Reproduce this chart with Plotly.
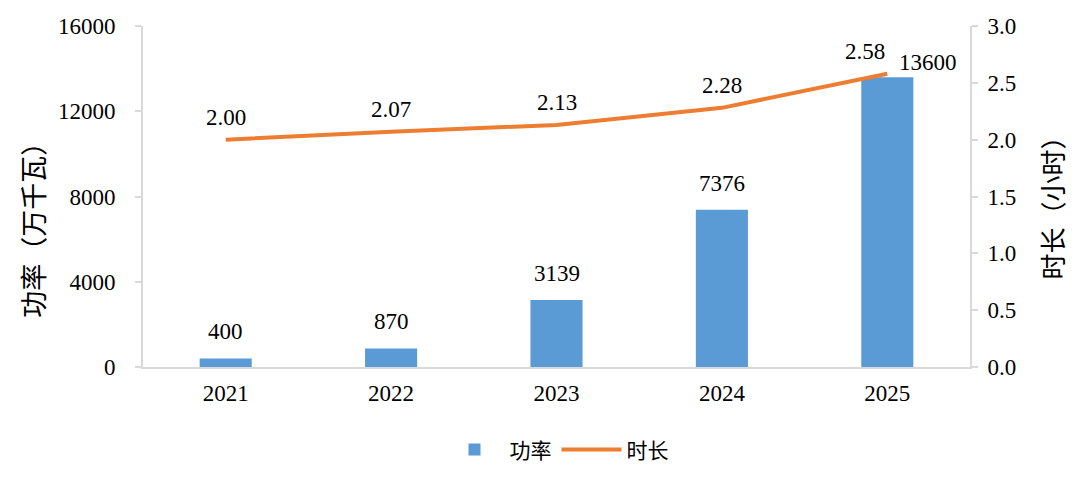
import plotly.graph_objects as go

years = [2021, 2022, 2023, 2024, 2025]
year_labels = ["2021", "2022", "2023", "2024", "2025"]
power = [400, 870, 3139, 7376, 13600]
hours = [2.00, 2.07, 2.13, 2.28, 2.58]
power_labels = ["400", "870", "3139", "7376", "13600"]
hours_labels = ["2.00", "2.07", "2.13", "2.28", "2.58"]
left_ticks = [0, 4000, 8000, 12000, 16000]
right_ticks = [0.0, 0.5, 1.0, 1.5, 2.0, 2.5, 3.0]
left_title = "功率（万千瓦）"
right_title = "时长（小时）"

BLUE = "#5B9BD5"
ORANGE = "#ED7D31"
AXIS = "#D9D9D9"
SERIF = "Liberation Serif, Times New Roman, serif"
CJK = "Noto Sans CJK SC, sans-serif"
NUM = 23

fig = go.Figure()
fig.add_trace(go.Bar(x=years, y=power, name="功率", width=0.315,
                     marker=dict(color=BLUE, line=dict(width=0)), yaxis="y"))
fig.add_trace(go.Scatter(x=years, y=hours, name="时长", mode="lines",
                         line=dict(color=ORANGE, width=4), yaxis="y2"))

annotations = []
for i, (yr, v, lab) in enumerate(zip(years, power, power_labels)):
    last = i == len(years) - 1
    annotations.append(dict(x=yr, y=v, xref="x", yref="y", text=lab, showarrow=False,
                            yanchor="bottom", xanchor="center",
                            xshift=41 if last else 0, yshift=0 if last else 12,
                            font=dict(family=SERIF, size=NUM, color="#000")))
for i, (yr, v, lab) in enumerate(zip(years, hours, hours_labels)):
    last = i == len(years) - 1
    annotations.append(dict(x=yr, y=v, xref="x", yref="y2", text=lab, showarrow=False,
                            yanchor="bottom", xanchor="center",
                            xshift=-22 if last else 0, yshift=8,
                            font=dict(family=SERIF, size=NUM, color="#000")))
# axis titles
annotations.append(dict(x=0, y=0.42, xref="paper", yref="paper", text=left_title,
                        showarrow=False, textangle=-90, xanchor="center", yanchor="middle",
                        xshift=-110, font=dict(family=CJK, size=27, color="#000")))
annotations.append(dict(x=1, y=0.485, xref="paper", yref="paper", text=right_title,
                        showarrow=False, textangle=-90, xanchor="center", yanchor="middle",
                        xshift=82, font=dict(family=CJK, size=26, color="#000")))

fig.update_layout(
    width=1080, height=480,
    margin=dict(l=135, r=118, t=18, b=121, autoexpand=False),
    paper_bgcolor="white", plot_bgcolor="white",
    showlegend=True,
    legend=dict(orientation="h", x=0.5, xanchor="center", y=-0.243, yanchor="middle",
                font=dict(family=CJK, size=21, color="#000"), itemwidth=60),
    xaxis=dict(range=[2020.5, 2025.5], tickvals=years, ticktext=year_labels,
               showline=True, linecolor=AXIS, linewidth=2, ticks="",
               showgrid=False, zeroline=False, ticklabelstandoff=4,
               tickfont=dict(family=SERIF, size=NUM, color="#000")),
    yaxis=dict(range=[0, 16000], tickvals=left_ticks, ticktext=[str(t) for t in left_ticks],
               showline=True, linecolor=AXIS, linewidth=2, ticks="outside", ticklen=6,
               tickcolor=AXIS, tickwidth=2, showgrid=False, zeroline=False,
               ticklabelstandoff=15,
               tickfont=dict(family=SERIF, size=NUM, color="#000")),
    yaxis2=dict(range=[0, 3.0], tickvals=right_ticks, ticktext=[f"{t:.1f}" for t in right_ticks],
                overlaying="y", side="right",
                showline=True, linecolor=AXIS, linewidth=2, ticks="outside", ticklen=6,
                tickcolor=AXIS, tickwidth=2, showgrid=False, zeroline=False,
                ticklabelstandoff=5,
                tickfont=dict(family=SERIF, size=NUM, color="#000")),
    annotations=annotations,
)

fig.write_html("out.html")
